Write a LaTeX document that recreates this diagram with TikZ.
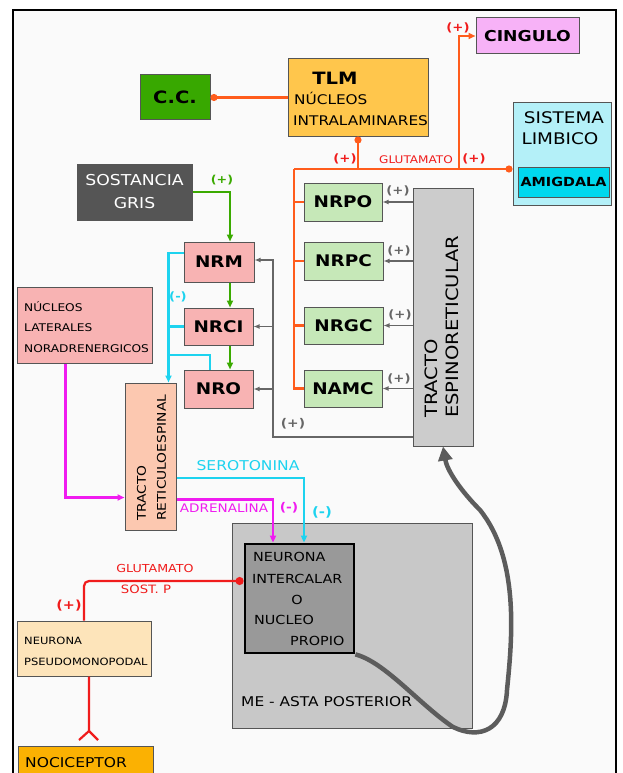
\documentclass[tikz,border=0pt]{standalone}
\usepackage{fontspec}
\setmainfont{DejaVu Sans}[FakeStretch=1.15]
\usetikzlibrary{arrows.meta}
\definecolor{framebg}{HTML}{FAFAFA}
\definecolor{bordc}{HTML}{555555}
\definecolor{cccol}{HTML}{38A800}
\definecolor{tlmcol}{HTML}{FFC64C}
\definecolor{cingcol}{HTML}{F7B2F7}
\definecolor{sistcol}{HTML}{B4F0F8}
\definecolor{amigcol}{HTML}{00D8EE}
\definecolor{sgcol}{HTML}{555555}
\definecolor{nrcol}{HTML}{F8B3B3}
\definecolor{grcol}{HTML}{C6E8B8}
\definecolor{trscol}{HTML}{FCC8B0}
\definecolor{tescol}{HTML}{CCCCCC}
\definecolor{mecol}{HTML}{C8C8C8}
\definecolor{nicol}{HTML}{999999}
\definecolor{npcol}{HTML}{FDE4BA}
\definecolor{noccol}{HTML}{FBB102}
\definecolor{orc}{HTML}{FF5C1C}
\definecolor{rdc}{HTML}{F01C1C}
\definecolor{gnc}{HTML}{3AAA00}
\definecolor{cyc}{HTML}{1DD3EF}
\definecolor{mgc}{HTML}{F01CF0}
\definecolor{gyc}{HTML}{666666}
\definecolor{thc}{HTML}{5C5C5C}
\newcommand{\myfs}[1]{\fontsize{#1}{#1}\selectfont}
\begin{document}
\begin{tikzpicture}[x=1pt,y=-1pt,
  box/.style={draw=bordc, line width=1pt, inner sep=0pt, align=center},
  nrbox/.style={box, fill=nrcol, font=\bfseries\myfs{16}},
  grbox/.style={box, fill=grcol, font=\bfseries\myfs{16}},
  lbl/.style={inner sep=0pt},
  tri/.style={-{Triangle[length=7pt,width=6pt]}},
  dot/.style={-{Circle[length=7pt,width=7pt]}},
  orl/.style={draw=orc, line width=2.2pt},
  rdl/.style={draw=rdc, line width=2.2pt},
  gnl/.style={draw=gnc, line width=2pt},
  cyl/.style={draw=cyc, line width=2.2pt},
  mgl/.style={draw=mgc, line width=2.2pt},
  gyl/.style={draw=gyc, line width=1.7pt, -{Latex[length=6pt,width=5pt]}},
  rlab/.style={lbl, text=rdc, font=\myfs{10.5}},
  rplus/.style={lbl, text=rdc, font=\bfseries\myfs{11.5}},
  glab/.style={lbl, text=gyc, font=\bfseries\myfs{11.5}},
]
\useasboundingbox (0,0) rectangle (623,773);
\clip (0,0) rectangle (623,773);
\fill[white] (0,0) rectangle (623,773);
\draw[line width=2.2pt, fill=framebg] (13,10) rectangle (616,800);

% boxes
\node[box, fill=cccol, minimum width=70pt, minimum height=45pt, font=\bfseries\myfs{17}] (cc) at (175,97.5) {C.C.};
\node[box, fill=tlmcol, minimum width=140pt, minimum height=77pt] (tlm) at (358,97.5) {};
\node[lbl, font=\bfseries\myfs{17}] (tlmt) at (335,78) {TLM};
\node[lbl, anchor=base west, font=\myfs{13.3}] (tlmn) at (294,105) {NÚCLEOS};
\node[lbl, anchor=base west, font=\myfs{13.3}] (tlmi) at (293,125) {INTRALAMINARES};
\node[box, fill=cingcol, minimum width=103pt, minimum height=36pt, font=\bfseries\myfs{15}] (cing) at (527.5,36) {CINGULO};
\node[box, fill=sistcol, minimum width=98pt, minimum height=102pt] (sist) at (562,154) {};
\node[lbl, font=\myfs{16}] (sist1) at (564,118) {SISTEMA};
\node[lbl, font=\myfs{16}] (sist2) at (560,139) {LIMBICO};
\node[box, fill=amigcol, minimum width=91pt, minimum height=30pt, font=\bfseries\myfs{12.5}] (amig) at (563.5,182) {AMIGDALA};
\node[box, fill=sgcol, text=white, minimum width=115pt, minimum height=56pt, font=\fontsize{15}{23}\selectfont] (sg) at (134.5,192) {SOSTANCIA\\GRIS};

\node[nrbox, minimum width=70pt, minimum height=40pt] (nrm) at (219,262) {NRM};
\node[nrbox, minimum width=69pt, minimum height=37pt] (nrci) at (218.5,326.5) {NRCI};
\node[nrbox, minimum width=69pt, minimum height=38pt] (nro) at (218.5,389) {NRO};
\node[grbox, minimum width=78pt, minimum height=38pt] (nrpo) at (343,202) {NRPO};
\node[grbox, minimum width=79pt, minimum height=38pt] (nrpc) at (343.5,261) {NRPC};
\node[grbox, minimum width=79pt, minimum height=37pt] (nrgc) at (343.5,325.5) {NRGC};
\node[grbox, minimum width=78pt, minimum height=37pt] (namc) at (343,388.5) {NAMC};

\node[box, fill=nrcol, minimum width=135pt, minimum height=76pt] (nln) at (84.5,325) {};
\node[lbl, anchor=west, align=left, font=\fontsize{10.6}{20.5}\selectfont] (nlnt) at (24,327) {NÚCLEOS\\LATERALES\\NORADRENERGICOS};

\node[box, fill=trscol, minimum width=51pt, minimum height=147pt] (trs) at (150.5,456.5) {};
\node[lbl, rotate=90, anchor=west, align=left, font=\fontsize{12}{20}\selectfont] (trst) at (151.5,521) {TRACTO\\RETICULOESPINAL};

\node[box, fill=tescol, minimum width=60pt, minimum height=258pt] (tes) at (443,317) {};
\node[lbl, rotate=90, anchor=west, align=left, font=\fontsize{17}{21}\selectfont] (test) at (441.5,418) {TRACTO\\ESPINORETICULAR};

\node[box, fill=mecol, minimum width=240pt, minimum height=205pt] (me) at (352,625.5) {};
\node[lbl, anchor=west, font=\myfs{13.4}] (met) at (241,702) {ME - ASTA POSTERIOR};
\node[box, draw=black, line width=2.8pt, fill=nicol, minimum width=109pt, minimum height=109pt] (ni) at (299.5,598.5) {};
\node[lbl, anchor=west, font=\myfs{12.5}] (ni1) at (253,557) {NEURONA};
\node[lbl, anchor=west, font=\myfs{12.5}] (ni2) at (252,579) {INTERCALAR};
\node[lbl, font=\myfs{12.5}] (ni3) at (297,600) {O};
\node[lbl, anchor=west, font=\myfs{12.5}] (ni4) at (254,620) {NUCLEO};
\node[lbl, anchor=west, font=\myfs{12.5}] (ni5) at (290,641) {PROPIO};

\node[box, fill=npcol, minimum width=134pt, minimum height=55pt] (np) at (84,648.5) {};
\node[lbl, anchor=west, align=left, font=\fontsize{10}{21}\selectfont] (npt) at (24,651) {NEURONA\\PSEUDOMONOPODAL};
\node[box, fill=noccol, minimum width=135pt, minimum height=60pt, anchor=north west] (noc) at (18,746) {};
\node[lbl, anchor=west, font=\myfs{13.5}] (noct) at (25,763) {NOCICEPTOR};

% orange connectors
\coordinate (oc) at (294,169);
\coordinate (ocg) at (459,169);
\draw[orl, dot] (tlm.west) -- (cc.east);
\draw[orl] (namc.west) -| (oc);
\draw[orl, dot] (oc) -- (oc -| sist.west);
\draw[orl] (nrpo.west) -- (nrpo.west -| oc);
\draw[orl] (nrpc.west) -- (nrpc.west -| oc);
\draw[orl] (nrgc.west) -- (nrgc.west -| oc);
\draw[orl, dot] (oc -| tlm.south) -- (tlm.south);
\draw[orl, tri] (ocg) |- (cing.west);
\node[rplus] (p1) at (345,159) {(+)};
\node[rlab] (glu1) at (416,160) {GLUTAMATO};
\node[rplus] (p2) at (474,159) {(+)};
\node[rplus] (p3) at (458,28) {(+)};

% green
\draw[gnl, tri] (sg.east) -| ([xshift=11pt]nrm.north);
\draw[gnl, tri] ([xshift=11pt]nrm.south) -- ([xshift=11.5pt]nrci.north);
\draw[gnl, tri] ([xshift=11.5pt]nrci.south) -- ([xshift=11.5pt]nro.north);
\node[lbl, text=gnc, font=\bfseries\myfs{11}] (gp) at (222,180) {(+)};

% cyan upper
\coordinate (cyt) at ([xshift=18pt]trs.north);
\coordinate (cyn) at (169,355);
\draw[cyl, tri] ([yshift=9pt]nrm.west) -| (cyt);
\draw[cyl] (nrci.west) -- (nrci.west -| cyt);
\draw[cyl] ([xshift=-8.5pt]nro.north) |- (cyn);
\node[lbl, text=cyc, font=\bfseries\myfs{11.5}] (cm1) at (178,297) {(-)};

% gray
\draw[gyl] (tes.west |- nrpo.east) -- (nrpo.east);
\draw[gyl] (tes.west |- nrpc.east) -- (nrpc.east);
\draw[gyl] (tes.west |- nrgc.east) -- (nrgc.east);
\draw[gyl] (tes.west |- namc.east) -- (namc.east);
\node[glab] (g1) at (398,191) {(+)};
\node[glab] (g2) at (399,251) {(+)};
\node[glab] (g3) at (400,315) {(+)};
\node[glab] (g4) at (399,379) {(+)};
\coordinate (gv) at (273,437);
\draw[gyl] (tes.west |- gv) -- (gv) |- ([yshift=2pt]nrm.east);
\draw[gyl] (gv |- nrci.east) -- (nrci.east);
\draw[gyl] (gv |- nro.east) -- (nro.east);
\node[glab, font=\bfseries\myfs{12}] (g5) at (293,424) {(+)};

% magenta and cyan lower
\draw[mgl, tri] ([xshift=-19pt]nln.south) |- ([yshift=-41pt]trs.west);
\draw[mgl, tri] ([yshift=-43pt]trs.east) -| ([xshift=-26.5pt]ni.north);
\draw[cyl, tri] ([yshift=-21.5pt]trs.east) -| ([xshift=4.5pt]ni.north);
\node[lbl, text=cyc, font=\myfs{13.5}] (sero) at (248,466) {SEROTONINA};
\node[lbl, text=mgc, font=\myfs{11.8}] (adre) at (224,508) {ADRENALINA};
\node[lbl, text=mgc, font=\bfseries\myfs{12}] (mm) at (289,508) {(-)};
\node[lbl, text=cyc, font=\bfseries\myfs{13}] (cm2) at (322,512) {(-)};

% red
\draw[rdl, rounded corners=5pt, -{Circle[length=8pt,width=8pt]}] (np.north) |- ([yshift=17.5pt]ni.west);
\node[rlab, font=\myfs{11}] (glu2) at (155,568) {GLUTAMATO};
\node[rlab, font=\myfs{11.5}] (sost) at (146,589) {SOST. P};
\node[rplus, font=\bfseries\myfs{12.5}] (p4) at (69,606) {(+)};
\coordinate (rf) at (89,731);
\draw[rdl] (np.south -| rf) -- (rf) -- ++(-10,9);
\draw[rdl] (rf) -- ++(9,9);

% thick return curve
\draw[draw=thc, line width=4.5pt, -{Triangle[length=14pt,width=14pt]}] (ni.south east)
  .. controls (385,662) and (420,705) .. (453,727)
  .. controls (480,740) and (505,730) .. (507,690)
  .. controls (512,640) and (520,560) .. (480,510)
  .. controls (460,490) and (447,470) .. (tes.south);
\end{tikzpicture}
\end{document}
